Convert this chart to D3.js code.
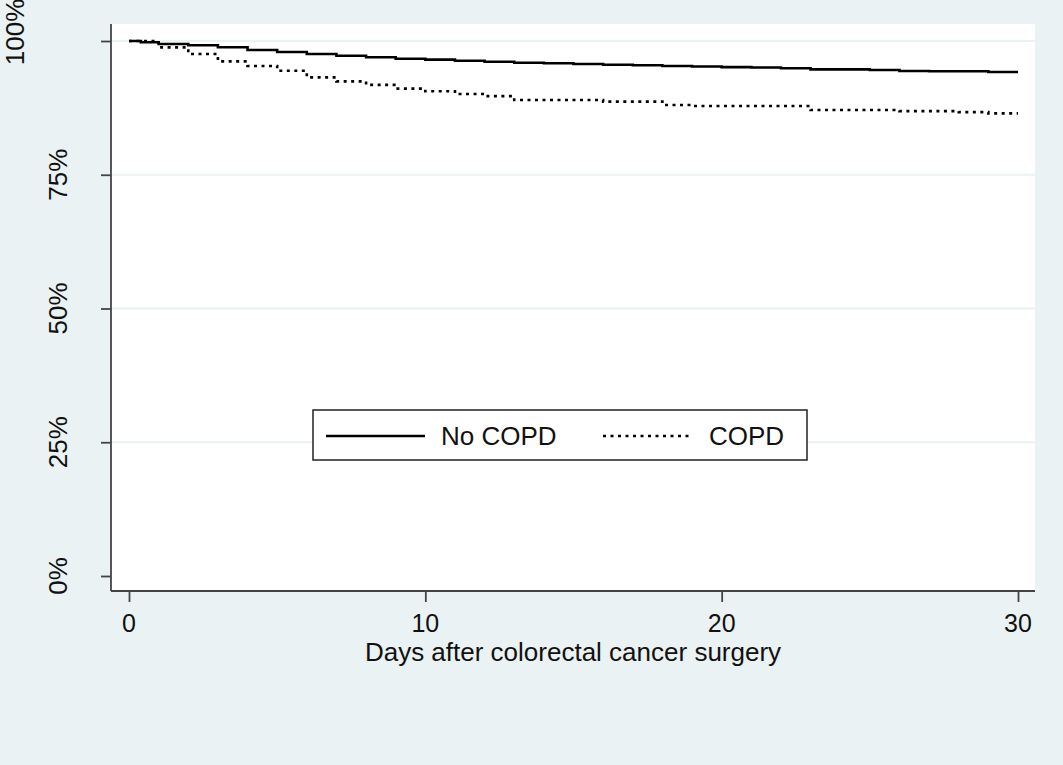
<!DOCTYPE html>
<html>
<head>
<meta charset="utf-8">
<script src="https://cdn.jsdelivr.net/npm/d3@7"></script>
<style>
  body { margin: 0; background: #eaf2f3; }
  svg { display: block; font-family: "Liberation Sans", Arial, sans-serif; }
</style>
</head>
<body>
<div id="chart"></div>
<script>
// Kaplan-Meier style survival, step changes at these days
const noCopdDays = [0, 0.4, 1, 2, 3, 4, 5, 6, 7, 8, 9, 10, 11, 12, 13, 14, 15, 16, 17, 18, 19, 20, 21, 22, 23, 25, 26, 27, 29]
const noCopdSurv = [1.0, 0.9976, 0.9944, 0.992, 0.9882, 0.9832, 0.9794, 0.9757, 0.9725, 0.9695, 0.9669, 0.9652, 0.9632, 0.9613, 0.9594, 0.9583, 0.957, 0.9557, 0.9546, 0.9532, 0.9522, 0.9512, 0.9505, 0.949, 0.947, 0.9458, 0.944, 0.9434, 0.942]

const copdDays = [0, 1, 2, 3, 4, 5, 6, 7, 8, 9, 10, 11, 12, 13, 16, 18, 19, 23, 26, 28, 29]
const copdSurv = [1.0, 0.988, 0.9757, 0.962, 0.9533, 0.9445, 0.932, 0.9246, 0.918, 0.911, 0.906, 0.901, 0.897, 0.8897, 0.8866, 0.8804, 0.8785, 0.871, 0.869, 0.867, 0.8648]

const endDay = 30
const xTicks = [0, 10, 20, 30]
const yTicks = [0, 0.25, 0.5, 0.75, 1]
const seriesNames = ["No COPD", "COPD"]

const width = 1063
const height = 765
const plot = { left: 111, right: 1035, top: 24, bottom: 591 }

const x = d3.scaleLinear().domain([0, 30]).range([129, 1018])
const y = d3.scaleLinear().domain([0, 1]).range([576, 41])

const svg = d3.select("#chart")
  .append("svg")
  .attr("width", width)
  .attr("height", height)

svg.append("rect")
  .attr("width", width)
  .attr("height", height)
  .attr("fill", "#eaf2f3")

svg.append("rect")
  .attr("x", plot.left)
  .attr("y", plot.top)
  .attr("width", plot.right - plot.left)
  .attr("height", plot.bottom - plot.top)
  .attr("fill", "#ffffff")

// gridlines (none at 0)
svg.append("g")
  .selectAll("line")
  .data(yTicks.filter(d => d > 0))
  .join("line")
  .attr("x1", plot.left)
  .attr("x2", plot.right)
  .attr("y1", d => y(d))
  .attr("y2", d => y(d))
  .attr("stroke", "#eaf2f3")
  .attr("stroke-width", 2)

// curves
const toSteps = (days, surv) => {
  const pts = days.map((d, i) => [d, surv[i]])
  pts.push([endDay, surv[surv.length - 1]])
  return pts
}

const line = d3.line()
  .x(d => x(d[0]))
  .y(d => y(d[1]))
  .curve(d3.curveStepAfter)

svg.append("path")
  .attr("d", line(toSteps(copdDays, copdSurv)))
  .attr("fill", "none")
  .attr("stroke", "#000")
  .attr("stroke-width", 2.6)
  .attr("stroke-dasharray", "3,4.5")

svg.append("path")
  .attr("d", line(toSteps(noCopdDays, noCopdSurv)))
  .attr("fill", "none")
  .attr("stroke", "#000")
  .attr("stroke-width", 2.6)

// axes
const yAxis = d3.axisLeft(y).tickValues(yTicks).tickSize(10).tickFormat("")
const gy = svg.append("g").attr("transform", `translate(${plot.left},0)`).call(yAxis)
gy.select(".domain").attr("d", `M0,${plot.top}V${plot.bottom}`)

const xAxis = d3.axisBottom(x).tickValues(xTicks).tickSize(11).tickFormat("")
const gx = svg.append("g").attr("transform", `translate(0,${plot.bottom})`).call(xAxis)
gx.select(".domain").attr("d", `M${plot.left},0H${plot.right}`)

svg.selectAll(".domain, .tick line")
  .attr("stroke", "#444")
  .attr("stroke-width", 1.8)

// y tick labels, rotated (the top one sits pushed into the corner)
const yFmt = d3.format(".0%")
svg.append("g")
  .selectAll("text")
  .data(yTicks)
  .join("text")
  .attr("transform", d => d === 1
    ? `translate(24,${y(d) - 9}) rotate(-90)`
    : `translate(67,${y(d)}) rotate(-90)`)
  .attr("text-anchor", "middle")
  .attr("font-size", 26)
  .attr("fill", "#111")
  .text(d => yFmt(d))

// x tick labels
svg.append("g")
  .selectAll("text")
  .data(xTicks)
  .join("text")
  .attr("x", d => x(d))
  .attr("y", 632)
  .attr("text-anchor", "middle")
  .attr("font-size", 25)
  .attr("fill", "#111")
  .text(d => d)

svg.append("text")
  .attr("x", (plot.left + plot.right) / 2)
  .attr("y", 661)
  .attr("text-anchor", "middle")
  .attr("font-size", 26)
  .attr("fill", "#111")
  .text("Days after colorectal cancer surgery")

// legend
const lg = svg.append("g").attr("transform", "translate(313,410)")
lg.append("rect")
  .attr("width", 494)
  .attr("height", 50)
  .attr("fill", "#fff")
  .attr("stroke", "#222")
  .attr("stroke-width", 1.5)

const legendItems = [
  { name: seriesNames[0], x1: 13, x2: 112, tx: 128, dash: null },
  { name: seriesNames[1], x1: 290, x2: 377, tx: 396, dash: "3,4.5" }
]
legendItems.forEach(d => {
  lg.append("line")
    .attr("x1", d.x1)
    .attr("x2", d.x2)
    .attr("y1", 26)
    .attr("y2", 26)
    .attr("stroke", "#000")
    .attr("stroke-width", 2.6)
    .attr("stroke-dasharray", d.dash)
  lg.append("text")
    .attr("x", d.tx)
    .attr("y", 35)
    .attr("font-size", 26)
    .attr("fill", "#111")
    .text(d.name)
})
</script>
</body>
</html>
